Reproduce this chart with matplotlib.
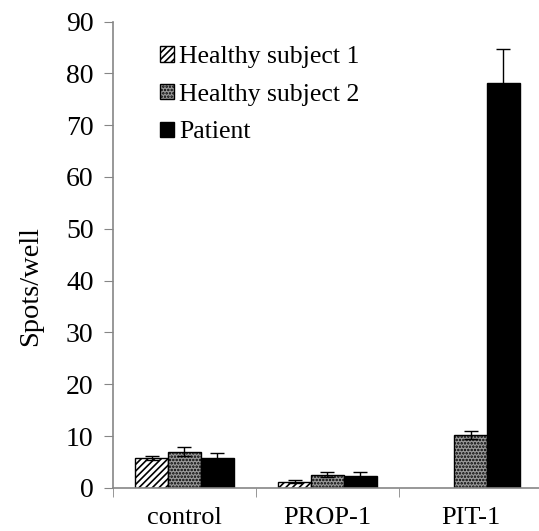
import numpy as np
import matplotlib
matplotlib.use('Agg')
import matplotlib.pyplot as plt
from matplotlib.ticker import FixedLocator

plt.rcParams['font.family'] = ['Liberation Serif', 'DejaVu Serif']
plt.rcParams['hatch.linewidth'] = 1.2

#----------------------
# data
categories = ['control', 'PROP-1', 'PIT-1']
series = ['Healthy subject 1', 'Healthy subject 2', 'Patient']
healthy1 = [5.8, 1.2, 0.0]
healthy1_err = [0.4, 0.3, 0.0]
healthy2 = [7.0, 2.6, 10.2]
healthy2_err = [0.9, 0.4, 0.8]
patient = [5.7, 2.3, 78.2]
patient_err = [1.0, 0.8, 6.5]
#----------------------

fig = plt.figure(figsize=(5.39, 5.31), dpi=100)
ax = fig.add_axes([0.2096, 0.081, 0.796, 0.8785])

x = np.arange(len(categories))
w = 0.23
styles = [dict(facecolor='white', hatch='/////'),
          dict(facecolor='#9a9a9a', hatch='.....'),
          dict(facecolor='black', hatch=None)]
vals = [healthy1, healthy2, patient]
errs = [healthy1_err, healthy2_err, patient_err]

for i in range(3):
    pos = x + (i - 1) * w
    h = np.array(vals[i])
    e = np.array(errs[i])
    mask = h > 0
    ax.bar(pos[mask], h[mask], w, edgecolor='black', linewidth=1.0,
           label=series[i], **styles[i], zorder=2)
    ax.errorbar(pos[mask], h[mask], yerr=e[mask], fmt='none', ecolor='black',
                elinewidth=1.0, capsize=5, capthick=1.0, zorder=3)

ax.set_xlim(-0.5, 2.5)
ax.set_ylim(0, 90)
ax.set_yticks(range(0, 91, 10))
ax.set_xticks(x)
ax.set_xticklabels(categories)
ax.xaxis.set_minor_locator(FixedLocator([-0.5, 0.5, 1.5, 2.5]))
ax.tick_params(axis='x', which='major', length=0, labelsize=19, pad=14)
ax.tick_params(axis='x', which='minor', length=6.5, color='#868686', direction='out')
ax.tick_params(axis='y', length=6.5, color='#868686', labelsize=20, pad=7.5)
ax.set_ylabel('Spots/well', fontsize=20.5, va='center')
ax.yaxis.set_label_coords(-0.192, 0.433)

for s in ['top', 'right']:
    ax.spines[s].set_visible(False)
for s in ['left', 'bottom']:
    ax.spines[s].set_color('#868686')
    ax.spines[s].set_linewidth(1.2)

ax.legend(loc='upper left', bbox_to_anchor=(160 / 539, 1 - 46 / 531),
          bbox_transform=fig.transFigure, frameon=False,
          fontsize=18.5, handlelength=0.55, handleheight=0.55, handletextpad=0.2,
          labelspacing=0.61, borderaxespad=0, borderpad=0)

plt.savefig('out.png', dpi=100)
